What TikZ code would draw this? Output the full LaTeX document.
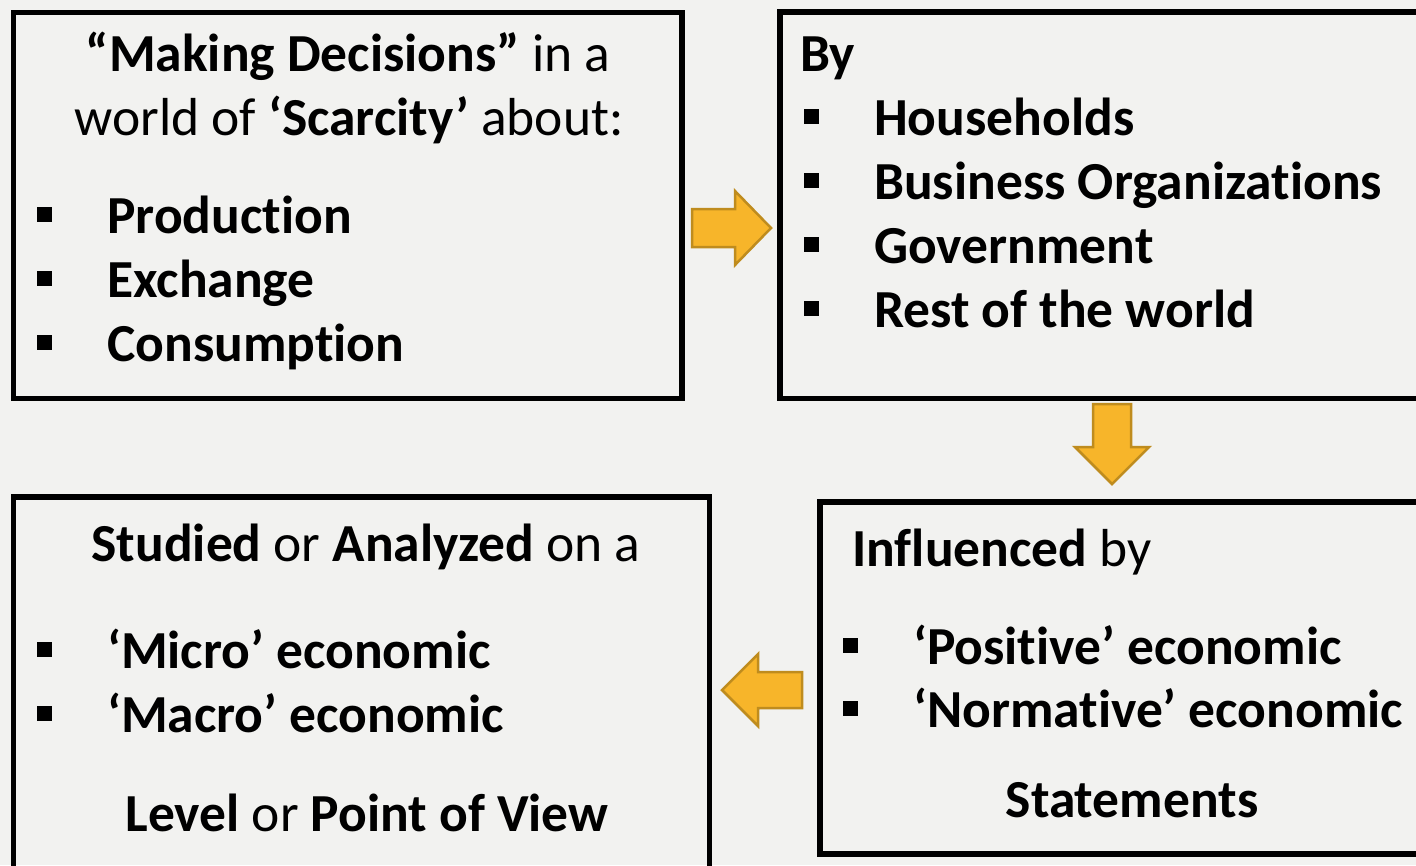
\documentclass[tikz,border=0pt]{standalone}
\usepackage{fontspec}
\setmainfont[Ligatures=NoCommon]{Carlito}
\definecolor{pagebg}{HTML}{F2F2F0}
\definecolor{arrowfill}{HTML}{F7B52A}
\definecolor{arrowline}{HTML}{BF8C1E}
% square bullet followed by a bold item
\newcommand{\sqitem}[1]{\rule[11pt]{15pt}{15pt}\hspace{55pt}\textbf{#1}}

\begin{document}
\begin{tikzpicture}[x=1pt,y=-1pt,
  box/.style={line width=5.5pt},
  blockarrow/.style={fill=arrowfill,draw=arrowline,line width=2.5pt},
  txt/.style={inner sep=0pt,anchor=base west,font=\fontsize{53.5}{64}\selectfont},
  ctxt/.style={txt,anchor=base}]
\useasboundingbox (0,0) rectangle (1416,865);
\clip (0,0) rectangle (1416,865);
\fill[pagebg] (0,0) rectangle (1416,865);

% the four boxes
\draw[box] (13.5,12.5) rectangle (682,398.5);
\draw[box] (780,12) rectangle (1440,398.5);
\draw[box] (13.5,497) rectangle (709.5,890);
\draw[box] (820,502) rectangle (1440,854);

% box 1
\node[ctxt] (making) at (348,71) {\textbf{“Making Decisions”} in a};
\node[ctxt] (world) at (349,135) {world of \textbf{‘Scarcity’} about:};
\node[txt] (prod) at (37,233) {\sqitem{Production}};
\node[txt] (exch) at (37,297) {\sqitem{Exchange}};
\node[txt] (cons) at (37,361) {\sqitem{Consumption}};

% box 2
\node[txt] (by) at (800,71) {\textbf{By}};
\node[txt] (house) at (804,135) {\sqitem{Households}};
\node[txt] (business) at (804,199) {\sqitem{Business Organizations}};
\node[txt] (govt) at (804,263) {\sqitem{Government}};
\node[txt] (rest) at (804,327) {\sqitem{Rest of the world}};

% box 3
\node[ctxt] (studied) at (366,561) {\textbf{Studied} or \textbf{Analyzed} on a};
\node[txt] (micro) at (37,668) {\sqitem{‘Micro’ economic}};
\node[txt] (macro) at (37,732) {\sqitem{‘Macro’ economic}};
\node[ctxt] (level) at (367,831) {\textbf{Level} or \textbf{Point of View}};

% box 4
\node[txt] (influenced) at (852,566) {\textbf{Influenced} by};
\node[txt] (positive) at (843,664) {\sqitem{‘Positive’ economic}};
\node[txt] (normative) at (843,727) {\sqitem{‘Normative’ economic}};
\node[ctxt] (statements) at (1132,817) {\textbf{Statements}};

% block arrows between the boxes
\draw[blockarrow] (692,209) -- (735,209) -- (735,191) -- (771,228)
  -- (735,265) -- (735,247) -- (692,247) -- cycle;
\draw[blockarrow] (1093,404) -- (1131,404) -- (1131,447) -- (1149,447)
  -- (1112,484) -- (1075,447) -- (1093,447) -- cycle;
\draw[blockarrow] (802,672) -- (758,672) -- (758,654) -- (722,690)
  -- (758,726) -- (758,708) -- (802,708) -- cycle;
\end{tikzpicture}
\end{document}
